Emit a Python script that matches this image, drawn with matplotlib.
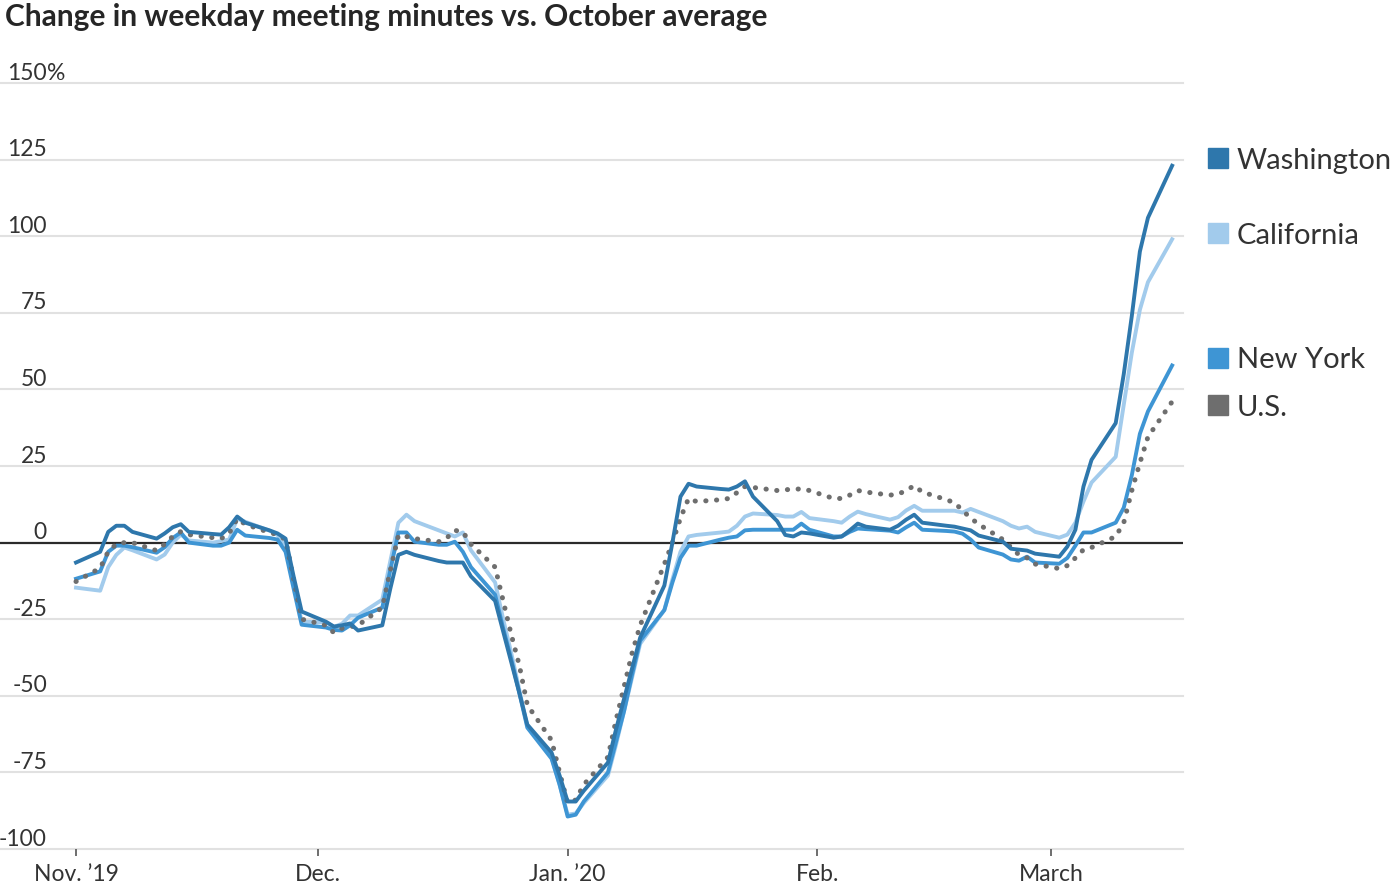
import matplotlib
matplotlib.use("Agg")
import matplotlib.pyplot as plt
import matplotlib.dates as mdates
from matplotlib.patches import Rectangle
import pandas as pd

# weekdays, Nov 1 2019 - Mar 16 2020
dates = pd.bdate_range("2019-11-01", "2020-03-16")

washington = [
    -6.5, -3, 3.5, 5.5, 5.5, 3.5, 1.3, 3, 5, 6, 3.5, 2.8, 2.6, 5, 8.5, 6.5, 4, 3, 1.3, -11, -22.5,
    -25.8, -27.4, -27, -26.4, -28.7, -27, -15, -4, -3, -4, -6, -6.5, -6.5, -6.5, -11, -19, -29, -39, -49, -59.4, -68.5, -76,
    -84.5, -84.5, -81, -71.8, -61, -51, -41, -31, -14, 0, 15, 19.2, 18.3, 17.5, 17.3, 18.3, 20, 15, 7, 2.5, 2, 3.3, 3,
    1.6, 2, 4, 6.2, 5.2, 4.2, 5.5, 7.5, 9.1, 6.5, 5.5, 5.2, 4.6, 4, 2.3, 0.3, -2, -2.3, -2.6, -3.6,
    -4.6, -1.3, 4.2, 18.3, 27, 39, 55, 74, 95, 106, 123,
]
california = [
    -14.7, -15.7, -8, -4, -1.6, -2.5, -5.5, -3.9, 0, 2.6, 0.7, 0, 0.5, 1, 7.8, 6.8, 3.9, 2.5, -0.7, -13, -25.8,
    -26, -27.5, -26.5, -23.8, -23.8, -18.6, -6, 6.5, 9.1, 7, 4, 3, 2, 3.3, -2.5, -13, -25, -36, -48, -60, -70, -79,
    -88.8, -88.4, -85, -76, -66, -55, -44, -33, -22, -12, -3, 2, 2.5, 3.3, 3.6, 5.5, 8.5, 9.5, 9, 8.5, 8.5, 10, 8,
    7, 6.5, 8.5, 10.1, 9.3, 7.5, 8.3, 10.5, 12, 10.4, 10.4, 10.4, 9.8, 11, 10, 7, 5.5, 4.6, 5.2, 3.5,
    1.6, 2.6, 6.5, 13.4, 19.6, 28, 45, 62, 76, 85, 99,
]
new_york = [
    -11.8, -9.4, -3, -1, -1, -1.5, -3.3, -1.5, 1.5, 3.3, 0, -1, -1, 0, 4.2, 2.3, 1.5, 1, -3, -15, -26.8,
    -27.7, -28.5, -28.7, -27, -24.5, -21.2, -9, 3.3, 3.3, 0.3, -0.7, -0.7, 0.3, -3, -8, -17, -28, -38, -49, -60.4, -70.5, -79,
    -89.4, -88.8, -84.5, -75, -65, -55, -43, -32, -22, -13, -5, -1, -1, 1, 1.6, 2, 4, 4.2, 4.2, 4.2, 4.2, 6.2, 4.2,
    2, 2, 3.5, 4.6, 4.4, 3.9, 3.3, 5, 6.5, 4.2, 3.8, 3.6, 2.9, 1, -1.6, -3.9, -5.5, -5.9, -4.6, -6.5,
    -6.9, -5, -1, 3.3, 3.3, 6.5, 11.4, 22, 35.5, 42.8, 57.8,
]
us = [
    -12.7, -8.3, -2.9, -0.5, 0, 0, -2.6, -0.5, 2, 3.6, 2.6, 1.6, 1.3, 3, 7.8, 6, 3.3, 2.6, 1, -12, -25,
    -27, -29.4, -28, -27.5, -27, -21.2, -9, 2.3, 2, 1.3, 0.3, 1.5, 4, 3.5, -0.5, -8, -19, -30, -40, -53, -64.5, -75,
    -85, -84, -79, -70, -58, -47, -36, -27, -7, 0, 8, 14.4, 13.4, 14, 14.4, 16.3, 18.3, 18, 17, 17.3, 17.3, 17.6, 17,
    14.4, 14.4, 15.5, 17, 16.5, 15.5, 15.8, 17, 18.6, 16.5, 14, 13, 10.5, 8, 6, 1, -1.5, -4, -5, -7,
    -8.5, -7.5, -5, -2.3, -1.6, 2, 6.5, 17, 26, 34.5, 46,
]

y_ticks = [150, 125, 100, 75, 50, 25, 0, -25, -50, -75, -100]
x_tick_dates = ["2019-11-01", "2019-12-01", "2020-01-01", "2020-02-01", "2020-03-01"]
x_tick_labels = ["Nov. \u201919", "Dec.", "Jan. \u201920", "Feb.", "March"]

legend_names = ["Washington", "California", "New York", "U.S."]
c_wa = "#2e77ac"
c_ca = "#a2cbec"
c_ny = "#3e95d4"
c_us = "#6e6e6e"

plt.rcParams["font.family"] = ["Lato", "DejaVu Sans"]

fig = plt.figure(figsize=(14, 8.88), dpi=100)
ax = fig.add_axes([0.0, 1 - 849 / 888, 1183 / 1400, (849 - 83) / 888])

x = mdates.date2num(dates.to_pydatetime())
start = mdates.date2num(pd.Timestamp("2019-11-01"))
ax.set_xlim(start - 9.43, start + 137.35)
ax.set_ylim(-100, 150)

for v in y_ticks:
    if v == 0:
        continue
    ax.axhline(v, color="#e1e1e1", lw=1.5, zorder=0, clip_on=False)
ax.axhline(0, color="#2b2b2b", lw=1.6, zorder=1)

lw = 2.8
ax.plot(x, california, color=c_ca, lw=lw, zorder=3)
ax.plot(x, new_york, color=c_ny, lw=lw, zorder=4)
ax.plot(x, us, color=c_us, lw=3.6, linestyle=(0, (0.05, 2.1)),
        dash_capstyle="round", zorder=5)
ax.plot(x, washington, color=c_wa, lw=lw, zorder=6)

for s in ax.spines.values():
    s.set_visible(False)
ax.set_yticks([])

# y labels sit just above their gridlines
lab_x = 47 / 1183
for v in y_ticks:
    txt = "150" if v == 150 else str(v)
    ax.annotate(txt, xy=(lab_x, v), xycoords=("axes fraction", "data"),
                xytext=(0, 2.5), textcoords="offset points",
                ha="right", va="baseline", fontsize=16.5, color="#333333")
ax.annotate("%", xy=(lab_x, 150), xycoords=("axes fraction", "data"),
            xytext=(0, 2.5), textcoords="offset points",
            ha="left", va="baseline", fontsize=16.5, color="#333333")

ax.set_xticks(mdates.date2num(pd.to_datetime(x_tick_dates).to_pydatetime()))
ax.set_xticklabels(x_tick_labels)
ax.tick_params(axis="x", length=5, width=1.2, color="#555555", pad=5.5,
               labelsize=16.5, labelcolor="#333333")

fig.text(5 / 1400, 1 - 3 / 888, "Change in weekday meeting minutes vs. October average",
         ha="left", va="top", fontsize=21.5, fontweight="bold", color="#262626")

# legend
legend_colors = [c_wa, c_ca, c_ny, c_us]
legend_y = [158, 233, 358, 405]
for name, col, yp in zip(legend_names, legend_colors, legend_y):
    fig.patches.append(Rectangle((1208 / 1400, 1 - (yp + 10) / 888), 20 / 1400, 20 / 888,
                                 transform=fig.transFigure, color=col))
    fig.text(1237 / 1400, 1 - yp / 888, name, ha="left", va="center_baseline",
             fontsize=21, color="#333333")

fig.savefig("out.png", dpi=100)
